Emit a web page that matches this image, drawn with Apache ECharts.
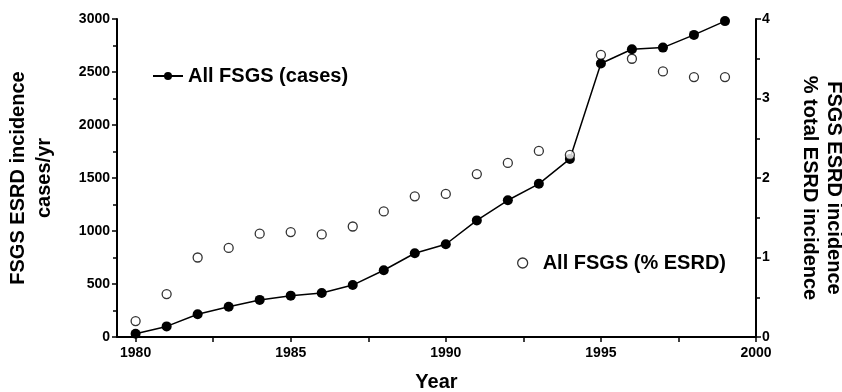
<!DOCTYPE html>
<html>
<head>
<meta charset="utf-8">
<script src="https://cdn.jsdelivr.net/npm/echarts@6/dist/echarts.min.js"></script>
<style>html,body{margin:0;padding:0;background:#fff}#c{width:842px;height:392px}</style>
</head>
<body>
<div id="c"></div>
<script>
var years = [1980,1981,1982,1983,1984,1985,1986,1987,1988,1989,1990,1991,1992,1993,1994,1995,1996,1997,1998,1999];
var cases = [30,100,215,285,350,390,415,490,630,790,875,1100,1290,1445,1680,2580,2715,2730,2850,2980];
var pctEsrd = [0.20,0.54,1.00,1.12,1.30,1.32,1.29,1.39,1.58,1.77,1.80,2.05,2.19,2.34,2.29,3.55,3.50,3.34,3.27,3.27];
var xLabels = [1980,1985,1990,1995,2000];
var xTicks = [1980,1982.5,1985,1987.5,1990,1992.5,1995,1997.5,2000];

var FONT = '"Liberation Sans", Arial, sans-serif';
var chart = echarts.init(document.getElementById('c'), null, {renderer:'canvas'});
var casesData = years.map(function(y,i){return [y,cases[i]];});
var pctData = years.map(function(y,i){return [y,pctEsrd[i]];});
function plain(v){return String(v);}

chart.setOption({
  animation:false,
  backgroundColor:'#fff',
  textStyle:{fontFamily:FONT},
  grid:{left:117,right:86,top:19,bottom:55,containLabel:false,outerBoundsMode:'none'},
  legend:[
    {data:[{name:'All FSGS (cases)'}], left:152, top:66, padding:0, itemWidth:30, itemHeight:10,
     textStyle:{fontFamily:FONT,fontWeight:'bold',fontSize:20,color:'#000'}},
    {data:[{name:'All FSGS (% ESRD)', icon:'circle',
            itemStyle:{color:'#fff',borderColor:'#000',borderWidth:1.3}}],
     left:517, top:253, padding:0, itemWidth:10, itemHeight:10,
     textStyle:{fontFamily:FONT,fontWeight:'bold',fontSize:20,color:'#000',padding:[0,0,0,10]}}
  ],
  xAxis:{
    type:'value', min:1979.4, max:2000,
    name:'Year', nameLocation:'middle', nameGap:35,
    nameTextStyle:{fontFamily:FONT,fontWeight:'bold',fontSize:20,color:'#000'},
    axisLine:{onZero:false,lineStyle:{color:'#000',width:2}},
    axisTick:{show:true,length:5,customValues:xTicks,lineStyle:{color:'#000',width:1.5}},
    axisLabel:{customValues:xLabels,margin:9,color:'#000',fontWeight:'bold',fontSize:14,fontFamily:FONT,formatter:plain},
    splitLine:{show:false}
  },
  yAxis:[
    {type:'value', min:0, max:3000, interval:500, position:'left',
     name:'FSGS ESRD incidence\ncases/yr', nameLocation:'middle', nameGap:60, nameRotate:90,
     nameTextStyle:{fontFamily:FONT,fontWeight:'bold',fontSize:20,color:'#000',lineHeight:26},
     axisLine:{show:true,lineStyle:{color:'#000',width:2}},
     axisTick:{show:true,length:5,lineStyle:{color:'#000',width:1.5}},
     minorTick:{show:true,splitNumber:2,length:4,lineStyle:{color:'#000',width:1.5}},
     axisLabel:{margin:7,color:'#000',fontWeight:'bold',fontSize:14,fontFamily:FONT,formatter:plain},
     splitLine:{show:false}},
    {type:'value', min:0, max:4, interval:1, position:'right',
     name:'FSGS ESRD incidence\n% total ESRD incidence', nameLocation:'middle', nameGap:42, nameRotate:-90,
     nameTextStyle:{fontFamily:FONT,fontWeight:'bold',fontSize:20,color:'#000',lineHeight:24,padding:[0,0,0,20]},
     axisLine:{show:true,lineStyle:{color:'#000',width:2}},
     axisTick:{show:true,length:5,lineStyle:{color:'#000',width:1.5}},
     minorTick:{show:true,splitNumber:2,length:4,lineStyle:{color:'#000',width:1.5}},
     axisLabel:{margin:6,color:'#000',fontWeight:'bold',fontSize:14,fontFamily:FONT,formatter:plain},
     splitLine:{show:false}}
  ],
  series:[
    {name:'All FSGS (cases)', type:'line', yAxisIndex:0, data:casesData,
     symbol:'circle', symbolSize:10, lineStyle:{color:'#000',width:1.5},
     itemStyle:{color:'#000'}, z:3},
    {name:'All FSGS (% ESRD)', type:'scatter', yAxisIndex:1, data:pctData,
     symbol:'circle', symbolSize:9,
     itemStyle:{color:'#fff',borderColor:'#000',borderWidth:1.3}, z:4}
  ]
});
</script>
</body>
</html>
